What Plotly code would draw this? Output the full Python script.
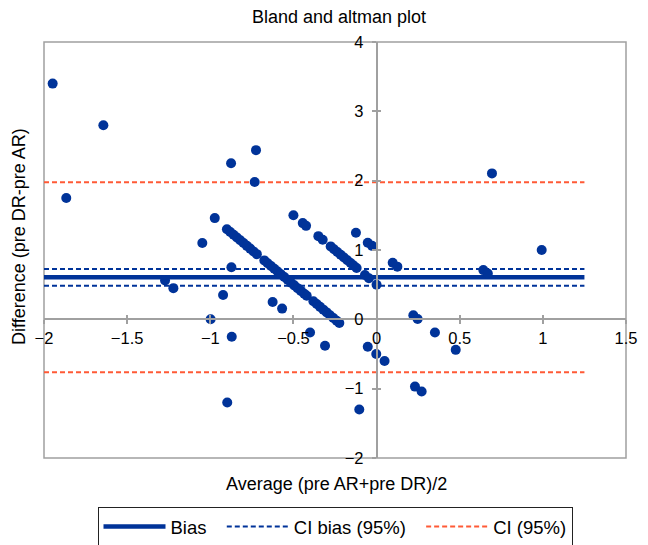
import plotly.graph_objects as go

# ---------------- data ----------------
avg = [
    -1.948, -1.643, -1.866, -0.875, -0.725, -0.733, -0.973, -1.048, -1.272, -1.222,
    -0.923, -0.873, -0.998, -0.871, -0.898, -0.625, -0.568, -0.124, -0.053, -0.027,
    0.097, 0.125, 0.642, 0.669, 0.694, 0.993, 0.221, 0.247, 0.351, 0.476,
    -0.400, -0.310, -0.053, -0.002, 0.048, -0.104, 0.231, 0.271,
    # upper diagonal chain
    -0.500, -0.444, -0.424, -0.350, -0.324, -0.276, -0.256, -0.236, -0.216, -0.196,
    -0.176, -0.156, -0.138, -0.120, -0.070, -0.046, 0.000,
    # lower diagonal chain
    -0.900, -0.880, -0.860, -0.840, -0.820, -0.800, -0.780, -0.760, -0.740, -0.720,
    -0.675, -0.655, -0.635, -0.615, -0.595, -0.575, -0.555, -0.535, -0.515, -0.495,
    -0.475, -0.455, -0.435, -0.420,
    -0.380, -0.360, -0.340, -0.320, -0.300, -0.280, -0.260, -0.240, -0.224,
]
diff = [
    3.40, 2.80, 1.75, 2.25, 2.44, 1.98, 1.46, 1.10, 0.56, 0.45,
    0.35, 0.75, 0.00, -0.25, -1.20, 0.25, 0.155, 1.25, 1.105, 1.06,
    0.816, 0.76, 0.71, 0.66, 2.105, 1.00, 0.06, 0.004, -0.19, -0.44,
    -0.19, -0.38, -0.395, -0.50, -0.60, -1.30, -0.97, -1.04,
    1.500, 1.388, 1.348, 1.200, 1.148, 1.052, 1.012, 0.972, 0.932, 0.892,
    0.852, 0.812, 0.776, 0.740, 0.640, 0.592, 0.500,
    1.300, 1.260, 1.220, 1.180, 1.140, 1.100, 1.060, 1.020, 0.980, 0.940,
    0.850, 0.810, 0.770, 0.730, 0.690, 0.650, 0.610, 0.570, 0.530, 0.490,
    0.450, 0.410, 0.370, 0.340,
    0.260, 0.220, 0.180, 0.140, 0.100, 0.060, 0.020, -0.020, -0.052,
]

line_x = [-2.0, 1.25]
bias = 0.606
ci_bias = [0.726, 0.485]
ci = [1.976, -0.764]

x_ticks = [-2, -1.5, -1, -0.5, 0, 0.5, 1, 1.5]
x_tick_text = ["\u22122", "\u22121.5", "\u22121", "\u22120.5", "0", "0.5", "1", "1.5"]
y_ticks = [-2, -1, 0, 1, 2, 3, 4]
y_tick_text = ["\u22122", "\u22121", "0", "1", "2", "3", "4"]

NAVY = "#003399"
RED = "#FF5A36"
GRAY = "#a0a0a0"
FONT = "Liberation Sans, Arial, sans-serif"
PAD = "\u00a0\u00a0"

# the page body adds an 8px offset; the figure is sized to fit the window
OFF = 8
W, H = 648 - OFF, 545 - OFF

fig = go.Figure()

fig.add_trace(go.Scatter(
    x=line_x, y=[bias, bias], mode="lines", name="Bias" + PAD,
    line=dict(color=NAVY, width=4.5),
))
fig.add_trace(go.Scatter(
    x=line_x + [None] + line_x, y=[ci_bias[0]] * 2 + [None] + [ci_bias[1]] * 2,
    mode="lines", name="CI bias (95%)" + PAD,
    line=dict(color=NAVY, width=2, dash="5px,3px"),
))
fig.add_trace(go.Scatter(
    x=line_x + [None] + line_x, y=[ci[0]] * 2 + [None] + [ci[1]] * 2,
    mode="lines", name="CI (95%)",
    line=dict(color=RED, width=2, dash="5px,3px"),
))
fig.add_trace(go.Scatter(
    x=avg, y=diff, mode="markers", showlegend=False,
    marker=dict(color=NAVY, size=10, line=dict(width=0)),
))
# empty trace to activate the overlay axes (for crossing ticks)
fig.add_trace(go.Scatter(x=[], y=[], xaxis="x2", yaxis="y2", showlegend=False))

x_pos = (0 - (-2)) / 3.5
y_pos = (0 - (-2)) / 6

common_x = dict(range=[-2, 1.5], showgrid=False, zeroline=False, showline=True,
                linecolor=GRAY, linewidth=1.5, tickcolor=GRAY, tickwidth=1.5, ticklen=4,
                tickvals=x_ticks, anchor="free", position=y_pos, automargin=False)
common_y = dict(range=[-2, 4], showgrid=False, zeroline=False, showline=True,
                linecolor=GRAY, linewidth=1.5, tickcolor=GRAY, tickwidth=1.5, ticklen=4,
                tickvals=y_ticks, anchor="free", position=x_pos, automargin=False)

fig.update_layout(
    width=W, height=H,
    margin=dict(l=44 - OFF, r=W - (44 - OFF) - 582, t=42 - OFF, b=H - (42 - OFF) - 416),
    paper_bgcolor="white", plot_bgcolor="white",
    font=dict(family=FONT, size=16, color="black"),
    title=dict(text="Bland and altman plot", x=(339 - OFF) / W, xanchor="center",
               y=1 - (17 - OFF) / H, yanchor="middle", font=dict(size=18)),
    xaxis=dict(**common_x, ticks="outside", ticktext=x_tick_text,
               tickfont=dict(size=16.5)),
    yaxis=dict(**common_y, ticks="outside", ticktext=y_tick_text,
               tickfont=dict(size=16.5), ticklabelstandoff=5),
    xaxis2=dict(**common_x, ticks="inside", showticklabels=False, overlaying="x"),
    yaxis2=dict(**common_y, ticks="inside", showticklabels=False, overlaying="y"),
    legend=dict(orientation="h", xref="container", yref="container",
                x=(335 - OFF) / W, xanchor="center", y=1 - (507 - OFF) / H, yanchor="top",
                bordercolor="#222", borderwidth=1, font=dict(size=18.5),
                itemwidth=62, bgcolor="white"),
    shapes=[dict(type="rect", xref="x domain", yref="y domain", x0=0, x1=1, y0=0, y1=1,
                 line=dict(color=GRAY, width=1.5), layer="below")],
    annotations=[
        dict(text="Average (pre AR+pre DR)/2", xref="paper", yref="paper",
             x=(336 - 44) / 582, y=(458 - 484) / 416, xanchor="center", yanchor="middle",
             showarrow=False, font=dict(size=18)),
        dict(text="Difference (pre DR-pre AR)", xref="paper", yref="paper",
             x=(19 - 44) / 582, y=(458 - 237) / 416, xanchor="center", yanchor="middle",
             textangle=-90, showarrow=False, font=dict(size=18)),
    ],
)

fig.write_html("out.html")
